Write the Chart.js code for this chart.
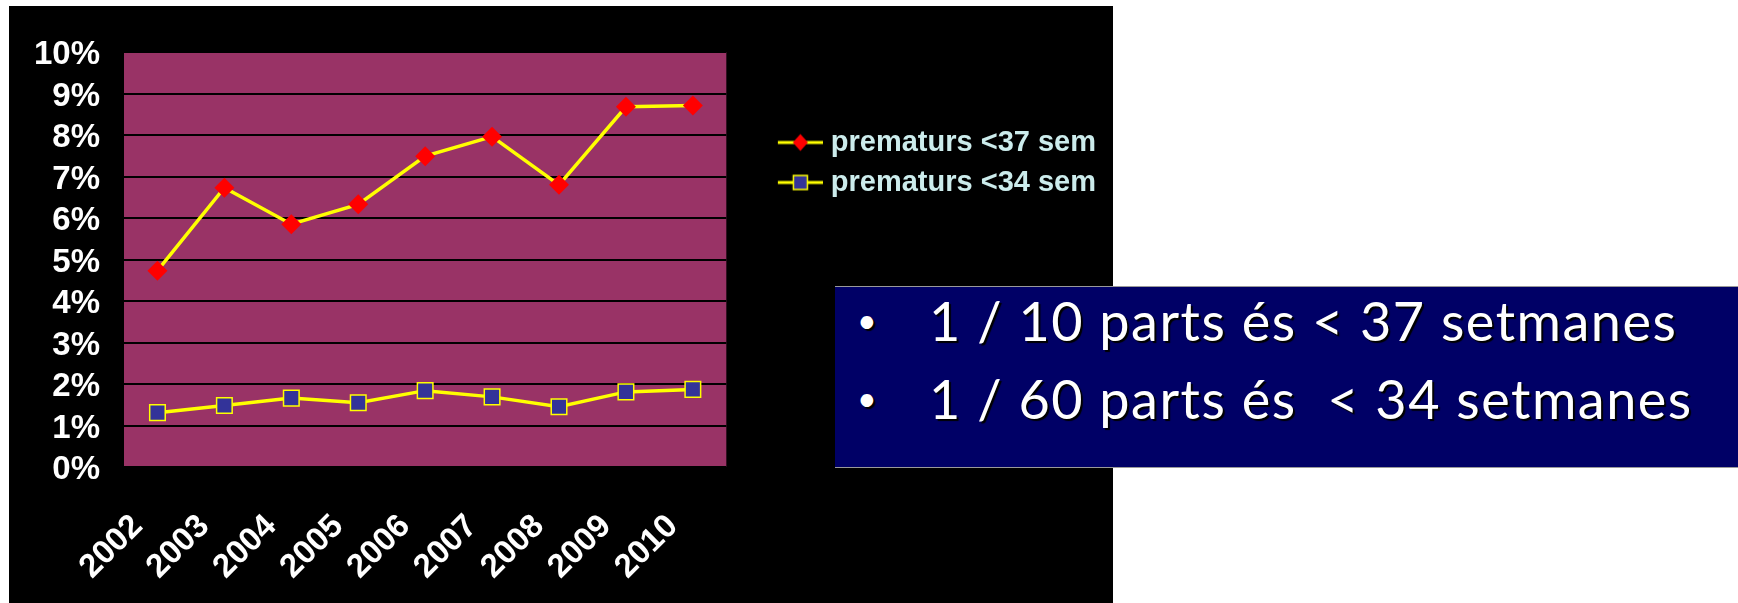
<!DOCTYPE html>
<html lang="ca">
<head>
  <meta charset="UTF-8">
  <title>Prematurs 2002-2010</title>
  <script src="https://cdn.jsdelivr.net/npm/chart.js"></script>
  <style>
    html, body { margin: 0; padding: 0; background: #fff; width: 1738px; height: 603px; overflow: hidden; }
    #panel { position: absolute; left: 9px; top: 6px; width: 1104px; height: 597px; background: #000; }
    #note {
      position: absolute; left: 835px; top: 286px; width: 903px; height: 180px;
      background: #000066; border-top: 1px solid #9a9a9a; border-bottom: 1px solid #9a9a9a;
    }
    #note .line {
      position: absolute; left: 0; height: 61px; white-space: pre;
      font-family: Lato, sans-serif; font-size: 54px; line-height: 61px; color: #fff;
      text-shadow: 2px 2px 1px #000;
    }
    #note .bullet { position: absolute; left: 22px; top: -1px; font-size: 34px; }
    #note .txt { position: absolute; left: 94px; letter-spacing: 1.5px; }
  </style>
</head>
<body>
  <div id="panel"><canvas id="chart"></canvas></div>

  <div id="note">
    <div class="line" style="top: 3px"><span class="bullet">•</span><span class="txt">1 / 10 parts és &lt; 37 setmanes</span></div>
    <div class="line" style="top: 81px"><span class="bullet">•</span><span class="txt">1 / 60 parts és  &lt; 34 setmanes</span></div>
  </div>

  <script>
    // data (percent of births)
    const years = ['2002', '2003', '2004', '2005', '2006', '2007', '2008', '2009', '2010'];
    const under37 = [4.73, 6.73, 5.85, 6.33, 7.49, 7.96, 6.80, 8.68, 8.71];
    const under34 = [1.31, 1.48, 1.66, 1.55, 1.84, 1.69, 1.45, 1.81, 1.87];
    const seriesNames = ['prematurs <37 sem', 'prematurs <34 sem'];
    const yTicks = [0, 1, 2, 3, 4, 5, 6, 7, 8, 9, 10];

    const FONT = "'Liberation Sans', Arial, sans-serif";

    // legend icon: yellow line with the marker on it (offset right inside the image)
    function makeIcon(kind) {
      const c = document.createElement('canvas');
      c.width = 92; c.height = 24;
      const g = c.getContext('2d');
      g.strokeStyle = '#ffff00';
      g.lineWidth = 3;
      g.beginPath(); g.moveTo(47, 12); g.lineTo(92, 12); g.stroke();
      const cx = 69.5, cy = 12;
      if (kind === 'diamond') {
        g.fillStyle = '#ff0000';
        g.beginPath();
        g.moveTo(cx - 7.5, cy); g.lineTo(cx, cy - 8.5); g.lineTo(cx + 7.5, cy); g.lineTo(cx, cy + 8.5);
        g.closePath(); g.fill();
      } else {
        g.fillStyle = '#333399';
        g.fillRect(cx - 7, cy - 7, 14, 14);
        g.strokeStyle = '#ffff00'; g.lineWidth = 1.5;
        g.strokeRect(cx - 7, cy - 7, 14, 14);
      }
      return c;
    }
    const legendIcons = [makeIcon('diamond'), makeIcon('square')];

    // purple plot area like the old excel chart
    const plotBg = {
      id: 'plotBg',
      beforeDraw(chart) {
        const { ctx, chartArea: a } = chart;
        ctx.save();
        ctx.fillStyle = '#993366';
        ctx.fillRect(a.left, a.top, a.width, a.height);
        ctx.restore();
      }
    };

    new Chart(document.getElementById('chart'), {
      type: 'line',
      data: {
        labels: years,
        datasets: [
          {
            label: seriesNames[0],
            data: under37,
            borderColor: '#ffff00',
            borderWidth: 3.5,
            tension: 0,
            pointStyle: 'rectRot',
            pointRadius: 10,
            pointBackgroundColor: '#ff0000',
            pointBorderColor: '#ff0000',
            pointBorderWidth: 0
          },
          {
            label: seriesNames[1],
            data: under34,
            borderColor: '#ffff00',
            borderWidth: 3.5,
            tension: 0,
            pointStyle: 'rect',
            pointRadius: 11,
            pointBackgroundColor: '#333399',
            pointBorderColor: '#ffff00',
            pointBorderWidth: 1.5
          }
        ]
      },
      options: {
        responsive: true,
        maintainAspectRatio: false,
        animation: false,
        layout: { padding: { top: 46, left: 0, right: 7, bottom: 0 } },
        scales: {
          x: {
            offset: true,
            grid: { display: false, drawTicks: false },
            border: { display: false },
            ticks: {
              color: '#fff',
              font: { family: FONT, weight: 'bold', size: 33 },
              minRotation: 45,
              maxRotation: 45,
              autoSkip: false,
              padding: 40,
              labelOffset: -20
            },
            afterFit(scale) { scale.height = 136; }
          },
          y: {
            min: 0,
            max: 10,
            grid: { color: '#000', lineWidth: 2, drawTicks: false },
            border: { display: false },
            afterBuildTicks(scale) { scale.ticks = yTicks.map(v => ({ value: v })); },
            ticks: {
              color: '#fff',
              font: { family: FONT, weight: 'bold', size: 33 },
              autoSkip: false,
              padding: 24,
              labelOffset: 3,
              callback: v => v + '%'
            },
            afterFit(scale) { scale.width = 115; }
          }
        },
        plugins: {
          tooltip: { enabled: false },
          legend: {
            position: 'right',
            align: 'start',
            maxWidth: 380,
            title: { display: true, text: ' ', padding: { top: 53, bottom: 0 }, font: { size: 10 } },
            labels: {
              color: '#ccecec',
              font: { family: FONT, weight: 'bold', size: 29 },
              usePointStyle: true,
              pointStyleWidth: 79,
              padding: 11,
              generateLabels: chart => Chart.defaults.plugins.legend.labels.generateLabels(chart)
                .map((item, i) => ({ ...item, pointStyle: legendIcons[i] }))
            }
          }
        }
      },
      plugins: [plotBg]
    });
  </script>
</body>
</html>
